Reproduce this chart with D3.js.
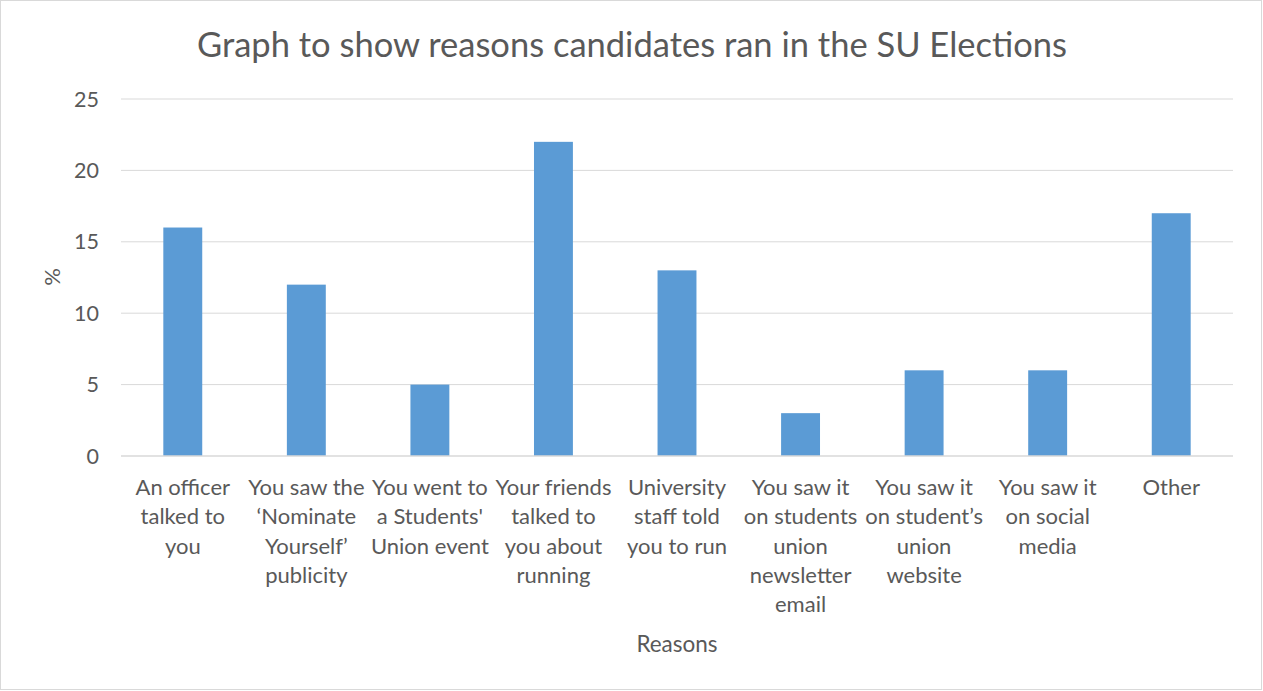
<!DOCTYPE html>
<html><head><meta charset="utf-8">
<script src="https://cdn.jsdelivr.net/npm/d3@7"></script>
<style>body{margin:0;background:#fff;} svg{display:block;}</style>
</head><body>
<svg id="c" width="1263" height="691"></svg>
<script>
const categories = [
  ["An officer","talked to","you"],
  ["You saw the","\u2018Nominate","Yourself\u2019","publicity"],
  ["You went to","a Students'","Union event"],
  ["Your friends","talked to","you about","running"],
  ["University","staff told","you to run"],
  ["You saw it","on students","union","newsletter","email"],
  ["You saw it","on student\u2019s","union","website"],
  ["You saw it","on social","media"],
  ["Other"]
];
const values = [16, 12, 5, 22, 13, 3, 6, 6, 17];
const yTicks = [0, 5, 10, 15, 20, 25];
const titleText = "Graph to show reasons candidates ran in the SU Elections";
const xTitle = "Reasons";
const yTitle = "%";

const font = "Lato, 'Open Sans', sans-serif";
const textColor = "#595959";
const svg = d3.select("#c");
svg.append("rect").attr("x",0.5).attr("y",0.5).attr("width",1261).attr("height",689)
  .attr("fill","#fff").attr("stroke","#d9d9d9");

const pL = 121, pR = 1233, pT = 99, pB = 456;
const ids = d3.range(categories.length);
const x = d3.scaleBand().domain(ids).range([pL, pR]).padding(0);
const y = d3.scaleLinear().domain([0, 25]).range([pB, pT]);
const barW = x.step() * 0.315;

// gridlines
svg.append("g").selectAll("line").data(yTicks.filter(d => d > 0)).join("line")
  .attr("x1", pL).attr("x2", pR)
  .attr("y1", d => y(d)).attr("y2", d => y(d))
  .attr("stroke", "#d9d9d9").attr("stroke-width", 1);

// y labels
svg.append("g").selectAll("text").data(yTicks).join("text")
  .attr("x", 99).attr("y", d => y(d)).attr("dy", "0.35em")
  .attr("text-anchor", "end").attr("font-family", font).attr("font-size", 21.5)
  .attr("fill", textColor).text(d => d);

// bars
svg.append("g").selectAll("rect").data(values).join("rect")
  .attr("x", (d,i) => x(i) + x.bandwidth()/2 - barW/2)
  .attr("width", barW)
  .attr("y", d => y(d)).attr("height", d => y(0) - y(d))
  .attr("fill", "#5b9bd5");

// x axis line
svg.append("line").attr("x1", pL).attr("x2", pR).attr("y1", pB).attr("y2", pB)
  .attr("stroke", "#d9d9d9").attr("stroke-width", 1.5);

// category labels
const cl = svg.append("g").selectAll("text").data(categories).join("text")
  .attr("text-anchor", "middle").attr("font-family", font).attr("font-size", 22)
  .attr("fill", textColor)
  .attr("transform", (d,i) => `translate(${x(i) + x.bandwidth()/2},495)`);
cl.selectAll("tspan").data(d => d).join("tspan")
  .attr("x", 0).attr("dy", (d,i) => i === 0 ? 0 : 29.3).text(d => d);

// title
svg.append("text").attr("x", 632).attr("y", 57).attr("text-anchor", "middle")
  .attr("font-family", font).attr("font-size", 34.5).attr("fill", textColor).text(titleText);

// axis titles
svg.append("text").attr("x", 677).attr("y", 652).attr("text-anchor", "middle")
  .attr("font-family", font).attr("font-size", 22.5).attr("fill", textColor).text(xTitle);
svg.append("text").attr("transform", "translate(60,277) rotate(-90)").attr("text-anchor", "middle")
  .attr("font-family", font).attr("font-size", 22).attr("fill", textColor).text(yTitle);
</script>
</body></html>
